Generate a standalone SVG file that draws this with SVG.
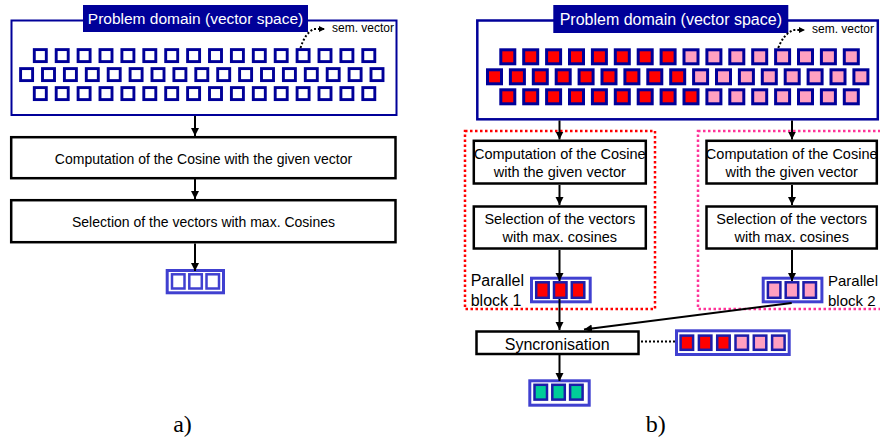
<svg xmlns="http://www.w3.org/2000/svg" width="880" height="439" viewBox="0 0 880 439">
<style>
text{font-family:"Liberation Sans",Arial,sans-serif;fill:#000}
.hdr{fill:#000099}
.hdrt{fill:#fff;text-anchor:middle}
.dom{fill:#fff;stroke:#000099}
.ls{fill:#fff;stroke:#000099;stroke-width:2.9}
.rs{stroke:#000099;stroke-width:3}
.red{fill:#ff0000}
.pink{fill:#ffa0c0}
.green{fill:#00cc99}
.box{fill:#fff;stroke:#000;stroke-width:2.5}
.frame{fill:#fff;stroke:#4040d0;stroke-width:3}
.rsq{stroke:#1c1caa;stroke-width:2.5}
.lsq{fill:#fff;stroke:#4040d0;stroke-width:2.5}
.c{text-anchor:middle}
.ln{stroke:#000;stroke-width:2;fill:none}
.dot{stroke:#000;stroke-width:2;fill:none;stroke-dasharray:2 2}
.lab{font-family:"Liberation Serif","Times New Roman",serif;font-size:24px;text-anchor:middle}
</style>
<defs>
<marker id="ah" markerUnits="userSpaceOnUse" markerWidth="9" markerHeight="9" refX="8" refY="4" orient="auto"><path d="M0,0 L8,4 L0,8 z" fill="#000"/></marker>
<marker id="sh" markerUnits="userSpaceOnUse" markerWidth="7" markerHeight="7" refX="6" refY="3" orient="auto"><path d="M0,0 L6,3 L0,6 z" fill="#000"/></marker>
</defs>

<!-- ===== a) ===== -->
<g id="a-domain">
<rect class="dom" x="11.5" y="20.5" width="385" height="94.5" stroke-width="2"/>
<rect class="hdr" x="83" y="5" width="225" height="27"/>
<text class="hdrt" x="195.5" y="24" font-size="15.5">Problem domain (vector space)</text>
<text x="332" y="32" font-size="12">sem. vector</text>
<g>
<rect class="ls" x="34.3" y="49.6" width="12" height="12"/><rect class="ls" x="56.2" y="49.6" width="12" height="12"/><rect class="ls" x="78.1" y="49.6" width="12" height="12"/><rect class="ls" x="100" y="49.6" width="12" height="12"/><rect class="ls" x="121.9" y="49.6" width="12" height="12"/><rect class="ls" x="143.8" y="49.6" width="12" height="12"/><rect class="ls" x="165.7" y="49.6" width="12" height="12"/><rect class="ls" x="187.6" y="49.6" width="12" height="12"/><rect class="ls" x="209.5" y="49.6" width="12" height="12"/><rect class="ls" x="231.4" y="49.6" width="12" height="12"/><rect class="ls" x="253.3" y="49.6" width="12" height="12"/><rect class="ls" x="275.2" y="49.6" width="12" height="12"/><rect class="ls" x="297.1" y="49.6" width="12" height="12"/><rect class="ls" x="319" y="49.6" width="12" height="12"/><rect class="ls" x="340.9" y="49.6" width="12" height="12"/><rect class="ls" x="362.8" y="49.6" width="12" height="12"/>
<rect class="ls" x="20.6" y="68.6" width="12" height="12"/><rect class="ls" x="42.5" y="68.6" width="12" height="12"/><rect class="ls" x="64.4" y="68.6" width="12" height="12"/><rect class="ls" x="86.3" y="68.6" width="12" height="12"/><rect class="ls" x="108.2" y="68.6" width="12" height="12"/><rect class="ls" x="130.1" y="68.6" width="12" height="12"/><rect class="ls" x="152" y="68.6" width="12" height="12"/><rect class="ls" x="173.9" y="68.6" width="12" height="12"/><rect class="ls" x="195.8" y="68.6" width="12" height="12"/><rect class="ls" x="217.7" y="68.6" width="12" height="12"/><rect class="ls" x="239.6" y="68.6" width="12" height="12"/><rect class="ls" x="261.5" y="68.6" width="12" height="12"/><rect class="ls" x="283.4" y="68.6" width="12" height="12"/><rect class="ls" x="305.3" y="68.6" width="12" height="12"/><rect class="ls" x="327.2" y="68.6" width="12" height="12"/><rect class="ls" x="349.1" y="68.6" width="12" height="12"/><rect class="ls" x="371" y="68.6" width="12" height="12"/>
<rect class="ls" x="34.3" y="87.6" width="12" height="12"/><rect class="ls" x="56.2" y="87.6" width="12" height="12"/><rect class="ls" x="78.1" y="87.6" width="12" height="12"/><rect class="ls" x="100" y="87.6" width="12" height="12"/><rect class="ls" x="121.9" y="87.6" width="12" height="12"/><rect class="ls" x="143.8" y="87.6" width="12" height="12"/><rect class="ls" x="165.7" y="87.6" width="12" height="12"/><rect class="ls" x="187.6" y="87.6" width="12" height="12"/><rect class="ls" x="209.5" y="87.6" width="12" height="12"/><rect class="ls" x="231.4" y="87.6" width="12" height="12"/><rect class="ls" x="253.3" y="87.6" width="12" height="12"/><rect class="ls" x="275.2" y="87.6" width="12" height="12"/><rect class="ls" x="297.1" y="87.6" width="12" height="12"/><rect class="ls" x="319" y="87.6" width="12" height="12"/><rect class="ls" x="340.9" y="87.6" width="12" height="12"/><rect class="ls" x="362.8" y="87.6" width="12" height="12"/>
</g>
</g>
<g id="a-cosine">
<rect class="box" x="11.2" y="137.2" width="384.3" height="41"/>
<text class="c" x="203.5" y="164.3" font-size="14">Computation of the Cosine with the given vector</text>
</g>
<g id="a-select">
<rect class="box" x="11.2" y="200.2" width="384.3" height="42"/>
<text class="c" x="203.5" y="226.7" font-size="14">Selection of the vectors with max. Cosines</text>
</g>
<g id="a-result">
<rect class="frame" x="167.2" y="270.5" width="56.3" height="22.3"/>
<rect class="lsq" x="172" y="274.3" width="12.5" height="14.2"/>
<rect class="lsq" x="189.3" y="274.3" width="12.5" height="14.2"/>
<rect class="lsq" x="206.5" y="274.3" width="12.5" height="14.2"/>
</g>
<text class="lab" x="182.5" y="431.5">a)</text>

<!-- ===== b) ===== -->
<g id="b-domain">
<rect class="dom" x="477.3" y="20.5" width="400.5" height="98.8" stroke-width="2.5"/>
<rect class="hdr" x="553.3" y="5" width="235" height="28"/>
<text class="hdrt" x="670.8" y="25" font-size="16">Problem domain (vector space)</text>
<text x="812" y="33" font-size="12">sem. vector</text>
<g>
<rect class="rs red" x="500.8" y="49.8" width="14" height="14"/><rect class="rs red" x="523.7" y="49.8" width="14" height="14"/><rect class="rs red" x="546.6" y="49.8" width="14" height="14"/><rect class="rs red" x="569.5" y="49.8" width="14" height="14"/><rect class="rs red" x="592.4" y="49.8" width="14" height="14"/><rect class="rs red" x="615.3" y="49.8" width="14" height="14"/><rect class="rs red" x="638.2" y="49.8" width="14" height="14"/><rect class="rs red" x="661.1" y="49.8" width="14" height="14"/><rect class="rs pink" x="684" y="49.8" width="14" height="14"/><rect class="rs pink" x="706.9" y="49.8" width="14" height="14"/><rect class="rs pink" x="729.8" y="49.8" width="14" height="14"/><rect class="rs pink" x="752.7" y="49.8" width="14" height="14"/><rect class="rs pink" x="775.6" y="49.8" width="14" height="14"/><rect class="rs pink" x="798.5" y="49.8" width="14" height="14"/><rect class="rs pink" x="821.4" y="49.8" width="14" height="14"/><rect class="rs pink" x="844.3" y="49.8" width="14" height="14"/>
<rect class="rs red" x="487.5" y="69.8" width="14" height="14"/><rect class="rs red" x="510.4" y="69.8" width="14" height="14"/><rect class="rs red" x="533.3" y="69.8" width="14" height="14"/><rect class="rs red" x="556.2" y="69.8" width="14" height="14"/><rect class="rs red" x="579.1" y="69.8" width="14" height="14"/><rect class="rs red" x="602" y="69.8" width="14" height="14"/><rect class="rs red" x="624.9" y="69.8" width="14" height="14"/><rect class="rs red" x="647.8" y="69.8" width="14" height="14"/><rect class="rs red" x="670.7" y="69.8" width="14" height="14"/><rect class="rs pink" x="693.6" y="69.8" width="14" height="14"/><rect class="rs pink" x="716.5" y="69.8" width="14" height="14"/><rect class="rs pink" x="739.4" y="69.8" width="14" height="14"/><rect class="rs pink" x="762.3" y="69.8" width="14" height="14"/><rect class="rs pink" x="785.2" y="69.8" width="14" height="14"/><rect class="rs pink" x="808.1" y="69.8" width="14" height="14"/><rect class="rs pink" x="831" y="69.8" width="14" height="14"/><rect class="rs pink" x="853.9" y="69.8" width="14" height="14"/>
<rect class="rs red" x="500.8" y="89.8" width="14" height="14"/><rect class="rs red" x="523.7" y="89.8" width="14" height="14"/><rect class="rs red" x="546.6" y="89.8" width="14" height="14"/><rect class="rs red" x="569.5" y="89.8" width="14" height="14"/><rect class="rs red" x="592.4" y="89.8" width="14" height="14"/><rect class="rs red" x="615.3" y="89.8" width="14" height="14"/><rect class="rs red" x="638.2" y="89.8" width="14" height="14"/><rect class="rs red" x="661.1" y="89.8" width="14" height="14"/><rect class="rs red" x="684" y="89.8" width="14" height="14"/><rect class="rs pink" x="706.9" y="89.8" width="14" height="14"/><rect class="rs pink" x="729.8" y="89.8" width="14" height="14"/><rect class="rs pink" x="752.7" y="89.8" width="14" height="14"/><rect class="rs pink" x="775.6" y="89.8" width="14" height="14"/><rect class="rs pink" x="798.5" y="89.8" width="14" height="14"/><rect class="rs pink" x="821.4" y="89.8" width="14" height="14"/><rect class="rs pink" x="844.3" y="89.8" width="14" height="14"/>
</g>
</g>

<g id="b-block1">
<rect x="465" y="131" width="190" height="178" fill="none" stroke="#ff0000" stroke-width="2.5" stroke-dasharray="2.5 2.5"/>
<text x="470.7" y="286" font-size="16">Parallel</text>
<text x="470.7" y="306" font-size="16">block 1</text>
</g>
<g id="b-block2">
<rect x="698" y="131" width="200" height="178" fill="none" stroke="#ff3399" stroke-width="2.5" stroke-dasharray="2.5 2.5"/>
<text x="828" y="286" font-size="15">Parallel</text>
<text x="828" y="306" font-size="15">block 2</text>
</g>

<g id="b-cosine1">
<rect class="box" x="473.8" y="140.8" width="172" height="42.7" stroke-width="3"/>
<text class="c" x="559.8" y="158.5" font-size="14.5">Computation of the Cosine</text>
<text class="c" x="559.8" y="177" font-size="14.5">with the given vector</text>
</g>
<g id="b-select1">
<rect class="box" x="473.8" y="206.5" width="172" height="42" stroke-width="3"/>
<text class="c" x="559.8" y="224.2" font-size="14.5">Selection of the vectors</text>
<text class="c" x="559.8" y="242" font-size="14.5">with max. cosines</text>
</g>
<g id="b-result1">
<rect class="frame" x="531.5" y="278.2" width="58.7" height="23.6"/>
<rect class="rsq red" x="536.2" y="282.3" width="12.5" height="15.5"/>
<rect class="rsq red" x="554" y="282.3" width="12.5" height="15.5"/>
<rect class="rsq red" x="571.8" y="282.3" width="12.5" height="15.5"/>
</g>

<g id="b-cosine2">
<rect class="box" x="706.5" y="140.8" width="170.3" height="42.7" stroke-width="3"/>
<text class="c" x="791.7" y="158.5" font-size="14.5">Computation of the Cosine</text>
<text class="c" x="791.7" y="177" font-size="14.5">with the given vector</text>
</g>
<g id="b-select2">
<rect class="box" x="706.5" y="206.5" width="170.3" height="42" stroke-width="3"/>
<text class="c" x="791.7" y="224.2" font-size="14.5">Selection of the vectors</text>
<text class="c" x="791.7" y="242" font-size="14.5">with max. cosines</text>
</g>
<g id="b-result2">
<rect class="frame" x="763.2" y="278.2" width="58.7" height="23.6"/>
<rect class="rsq pink" x="767.9" y="282.3" width="12.5" height="15.5"/>
<rect class="rsq pink" x="785.7" y="282.3" width="12.5" height="15.5"/>
<rect class="rsq pink" x="803.5" y="282.3" width="12.5" height="15.5"/>
</g>

<g id="b-sync">
<rect class="box" x="476.5" y="331.5" width="162" height="22.5"/>
<text class="c" x="557.2" y="350" font-size="16">Syncronisation</text>
</g>
<g id="b-merged">
<rect class="frame" x="676.5" y="330.8" width="112.7" height="23.7"/>
<rect class="rsq red" x="680.6" y="335.6" width="12.5" height="14.2"/>
<rect class="rsq red" x="698.9" y="335.6" width="12.5" height="14.2"/>
<rect class="rsq red" x="717.2" y="335.6" width="12.5" height="14.2"/>
<rect class="rsq pink" x="735.5" y="335.6" width="12.5" height="14.2"/>
<rect class="rsq pink" x="753.8" y="335.6" width="12.5" height="14.2"/>
<rect class="rsq pink" x="772.1" y="335.6" width="12.5" height="14.2"/>
</g>
<g id="b-result3">
<rect class="frame" x="529.8" y="380.8" width="59.4" height="24.4"/>
<rect class="rsq green" x="534.5" y="384.8" width="12.5" height="14.8"/>
<rect class="rsq green" x="552.3" y="384.8" width="12.5" height="14.8"/>
<rect class="rsq green" x="570.1" y="384.8" width="12.5" height="14.8"/>
</g>
<text class="lab" x="655.8" y="431.5">b)</text>

<g id="connectors">
<path class="dot" d="M300.5,48 Q305,33 314,29 L325,29" marker-end="url(#sh)"/>
<path class="dot" d="M778.3,48 Q783,35 793,30 L805,30" marker-end="url(#sh)"/>
<line class="ln" x1="195" y1="116" x2="195" y2="136" marker-end="url(#ah)"/>
<line class="ln" x1="195" y1="179" x2="195" y2="199" marker-end="url(#ah)"/>
<line class="ln" x1="195" y1="243.5" x2="195" y2="271" marker-end="url(#ah)"/>
<line class="ln" x1="559.5" y1="120.5" x2="559.5" y2="139.5" marker-end="url(#ah)"/>
<line class="ln" x1="559.5" y1="185" x2="559.5" y2="205" marker-end="url(#ah)"/>
<line class="ln" x1="559.5" y1="250" x2="559.5" y2="281" marker-end="url(#ah)"/>
<line class="ln" x1="792" y1="120.5" x2="792" y2="139.5" marker-end="url(#ah)"/>
<line class="ln" x1="792" y1="185" x2="792" y2="205" marker-end="url(#ah)"/>
<line class="ln" x1="792" y1="250" x2="792" y2="281" marker-end="url(#ah)"/>
<line class="ln" x1="559.5" y1="299" x2="559.5" y2="330" marker-end="url(#ah)"/>
<line class="ln" x1="791.7" y1="303" x2="584" y2="329.5" marker-end="url(#ah)"/>
<line class="ln" x1="559.5" y1="355" x2="559.5" y2="381" marker-end="url(#ah)"/>
<line class="dot" x1="641" y1="341.5" x2="675" y2="341.5"/>
</g>
</svg>
